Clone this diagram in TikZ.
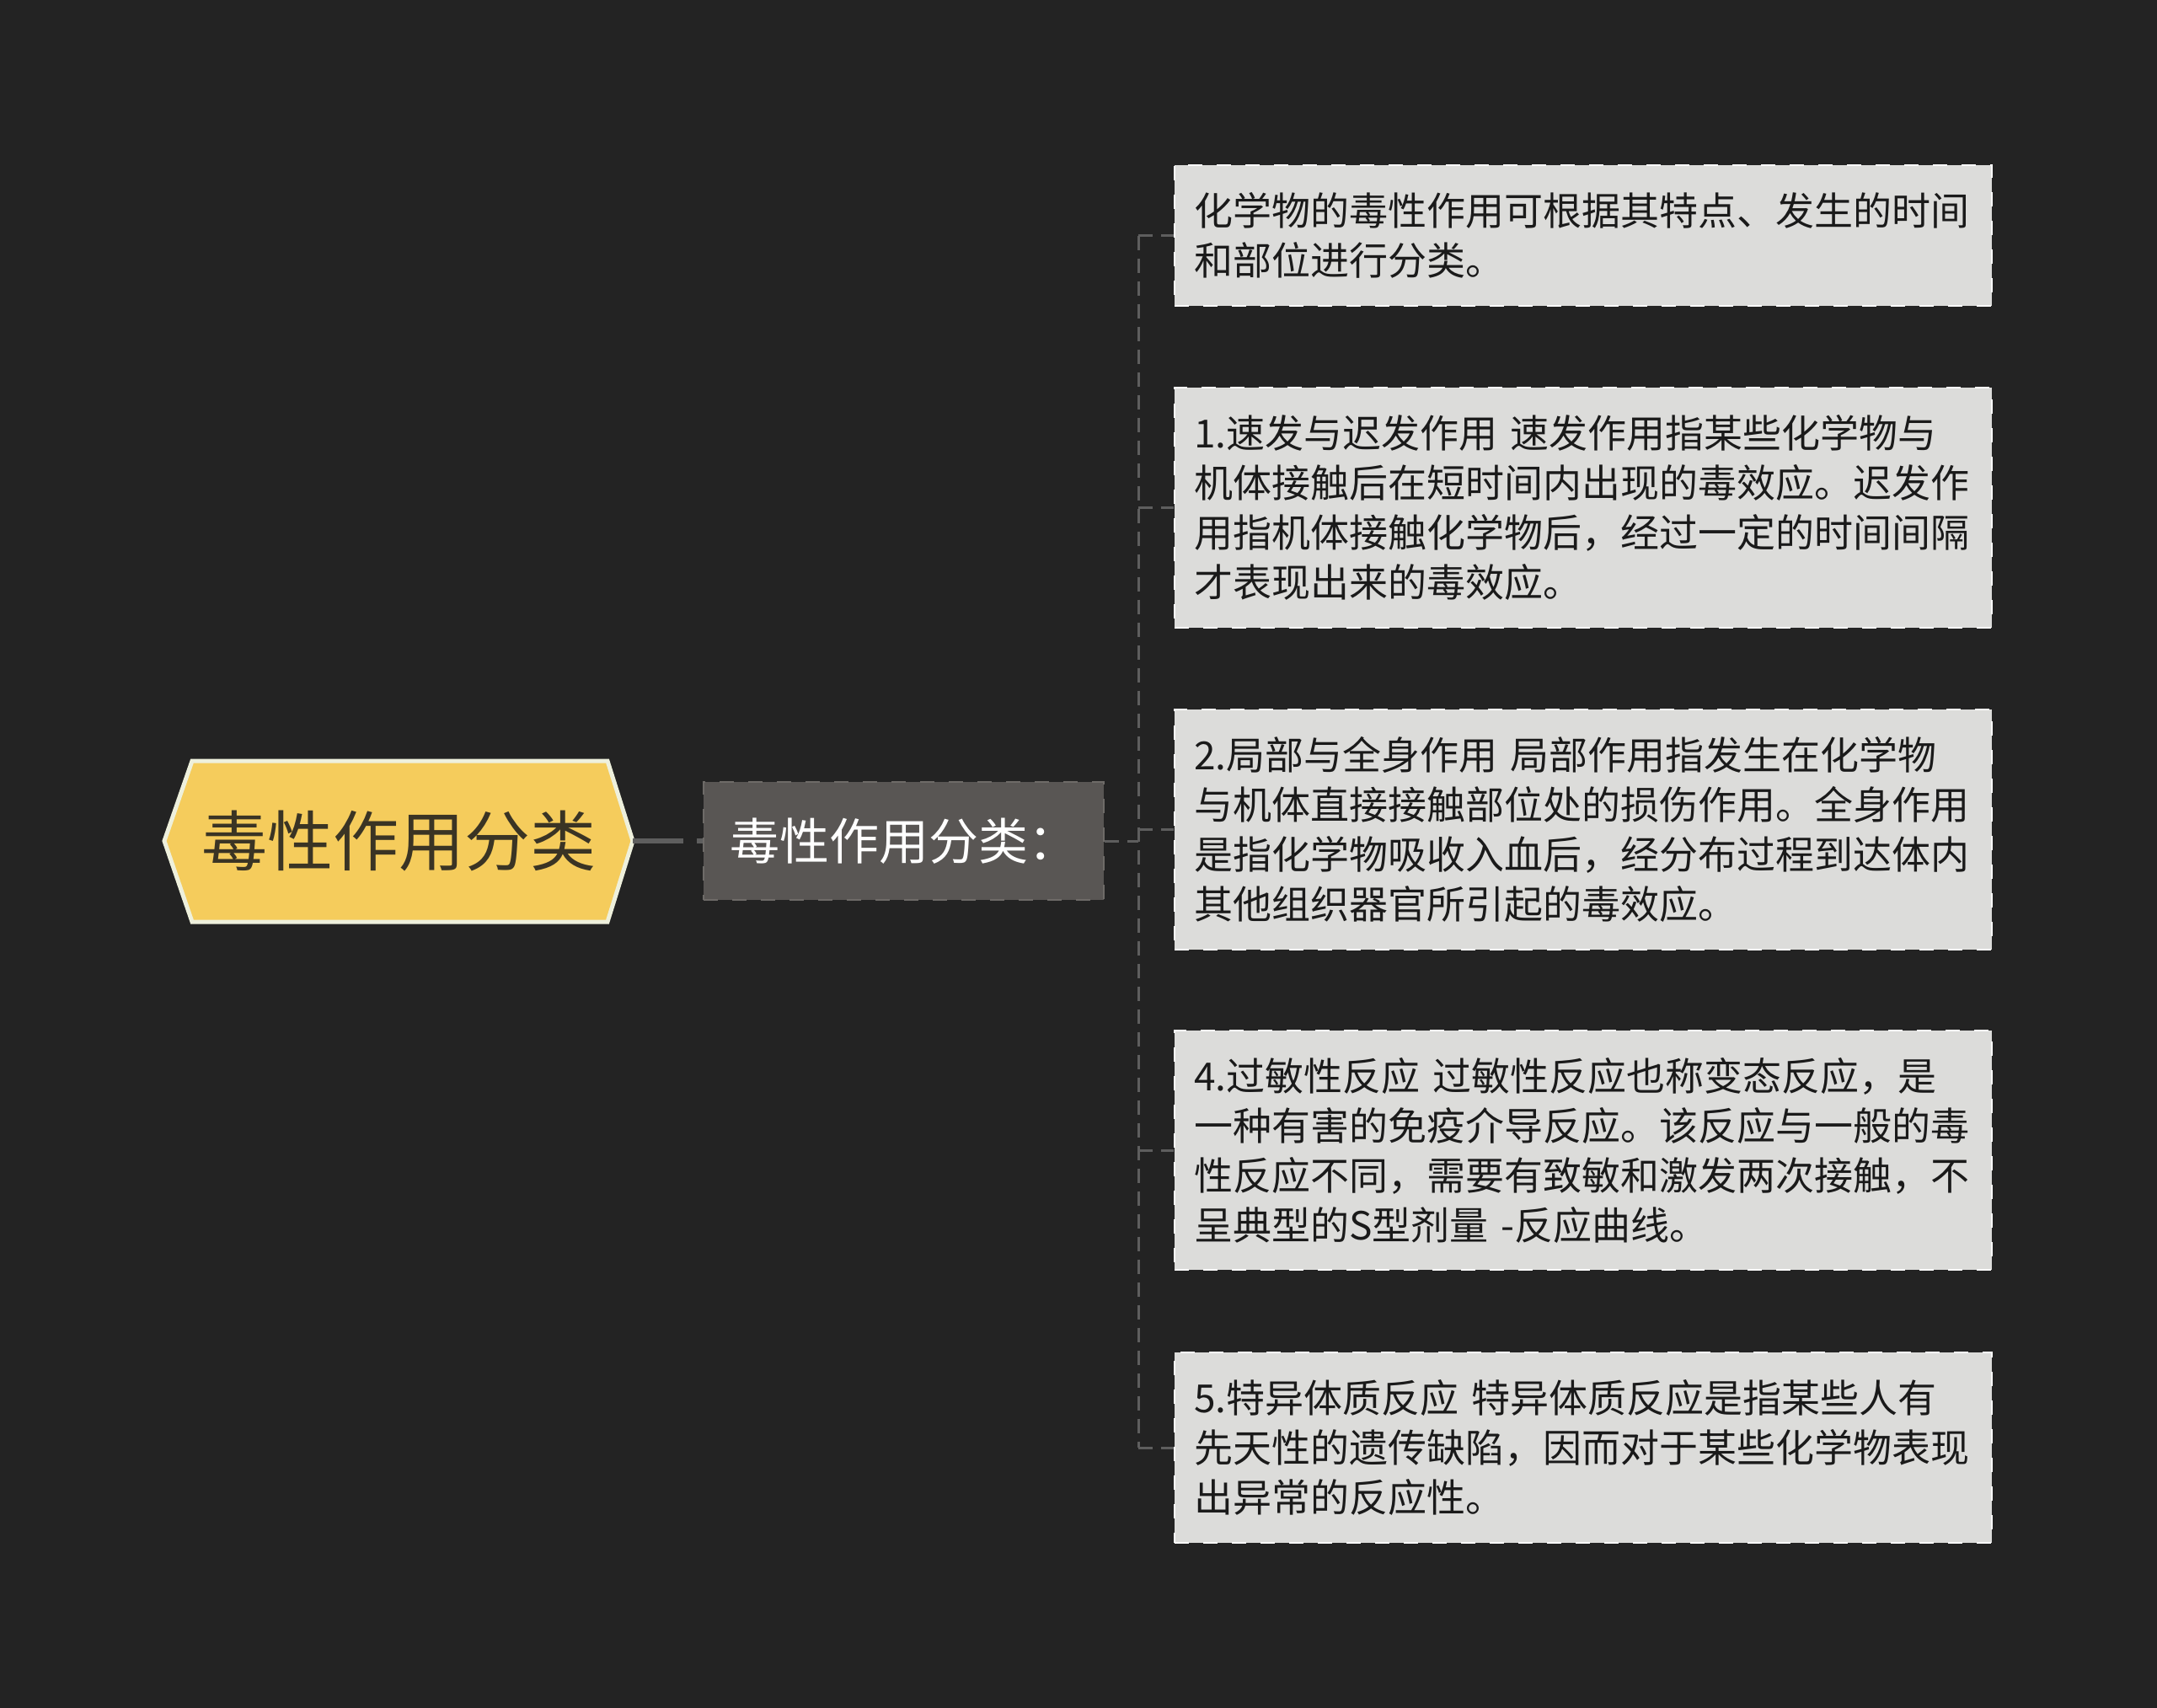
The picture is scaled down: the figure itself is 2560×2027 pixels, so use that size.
\documentclass[tikz,border=0pt]{standalone}
\usepackage{fontspec}
\newfontfamily\cjk{Noto Sans CJK SC}
\definecolor{bg}{HTML}{232323}
\definecolor{rootfill}{HTML}{F5CC5C}
\definecolor{rootline}{HTML}{EEF0DC}
\definecolor{roottextcol}{HTML}{3A3424}
\definecolor{midfill}{HTML}{595654}
\definecolor{midline}{HTML}{6E6B68}
\definecolor{leaffill}{HTML}{DCDCDA}
\definecolor{leaftext}{HTML}{1A1A1A}
\definecolor{linkcol}{HTML}{5E5E5E}
\tikzset{
  leaf/.style={draw=white, line width=2pt, dash pattern=on 17pt off 17pt, fill=leaffill,
    minimum width=970pt, text width=924pt, align=left, inner sep=0pt,
    text=leaftext, font=\cjk\fontsize{46pt}{59pt}\selectfont},
  midbox/.style={draw=midline, line width=2pt, dash pattern=on 17pt off 17pt, fill=midfill,
    minimum width=475pt, minimum height=140pt, inner sep=0pt, text=white,
    font=\cjk\fontsize{59pt}{70pt}\selectfont},
  rootbox/.style={minimum width=556pt, minimum height=191pt, inner sep=0pt, text=roottextcol,
    font=\cjk\fontsize{78pt}{90pt}\selectfont},
  trunk/.style={draw=linkcol, line width=3pt, dash pattern=on 17pt off 10pt},
  mainlink/.style={draw=linkcol, line width=6pt, dash pattern=on 60pt off 16pt}
}
\begin{document}
\begin{tikzpicture}[x=1pt,y=-1pt]
\path[use as bounding box, fill=bg] (0,0) rectangle (2560,2027);
% root hexagon
\draw[fill=rootfill, draw=rootline, line width=5pt, line join=miter]
  (195,998) -- (228,903) -- (721,903) -- (751,998) -- (721,1094) -- (228,1094) -- cycle;
\node[rootbox] (root) at (473,998) {毒性作用分类};
% middle
\node[midbox] (mid) at (1072.5,998) {毒性作用分类：};
% leaves
\node[leaf, minimum height=167pt] (l1) at (1879,279.5) {化学物的毒性作用可根据其特点、发生的时间\\和部位进行分类。};
\node[leaf, minimum height=285pt] (l2) at (1879,602.5) {1.速发与迟发作用 速发作用指某些化学物与\\机体接触后在短时间内出现的毒效应。迟发作\\用指机体接触化学物后，经过一定的时间间隔\\才表现出来的毒效应。};
\node[leaf, minimum height=285pt] (l3) at (1879,984.5) {2.局部与全身作用 局部作用指发生在化学物\\与机体直接接触部位处的损伤作用。全身作用\\是指化学物吸收入血后，经分布过程到达体内\\其他组织器官所引起的毒效应。};
\node[leaf, minimum height=284pt] (l4) at (1879,1365) {4.过敏性反应 过敏性反应也称变态反应，是\\一种有害的免疫介导反应。该反应与一般的毒\\性反应不同，需要有致敏和激发两次接触，不\\呈典型的S型剂量 -反应曲线。};
\node[leaf, minimum height=226pt] (l5) at (1879,1718) {5.特异体质反应 特异体质反应是指某些人有\\先天性的遗传缺陷，因而对于某些化学物表现\\出异常的反应性。};
% connectors
\coordinate (tk) at (1351,998);
\draw[mainlink] (root.east) -- (mid.west);
\draw[trunk] (mid.east) -- (tk);
\draw[trunk] (tk |- l1.west) -- (tk |- l5.west);
\foreach \n in {l1,l2,l3,l4,l5}{
  \draw[trunk] (tk |- \n.west) -- (\n.west);
}
\end{tikzpicture}
\end{document}
